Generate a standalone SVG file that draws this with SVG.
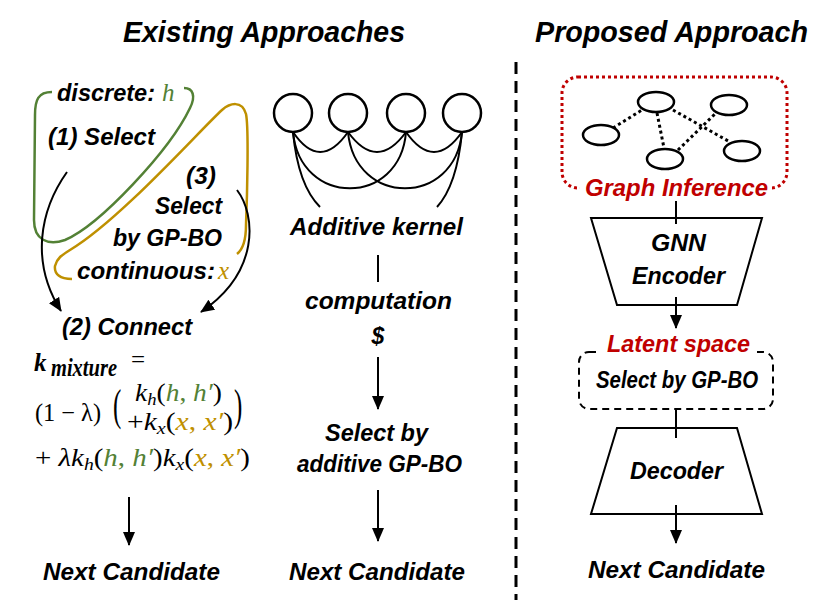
<svg xmlns="http://www.w3.org/2000/svg" width="830" height="603" viewBox="0 0 830 603">
<style>
.t{font-family:"Liberation Sans",Arial,sans-serif;font-weight:bold;font-style:italic;font-size:23px;fill:#000}
.tt{font-family:"Liberation Sans",Arial,sans-serif;font-weight:bold;font-style:italic;font-size:30px;fill:#000}
.m{font-family:"Liberation Serif","DejaVu Serif",serif;font-style:italic;font-size:25px;fill:#000}
.mu{font-family:"Liberation Serif","DejaVu Serif",serif;font-style:normal;font-size:25px;fill:#000}
.g{fill:#538135}
.y{fill:#BF9000}
.red{fill:#C00000}
.ln{fill:none;stroke:#000;stroke-width:2}
.ar{fill:none;stroke:#000;stroke-width:2;marker-end:url(#ah)}
.cir{fill:#fff;stroke:#000;stroke-width:2.5}
.dot{fill:none;stroke:#000;stroke-width:3;stroke-dasharray:3 3}
</style>
<defs>
<marker id="ah" markerUnits="userSpaceOnUse" markerWidth="14" markerHeight="14" refX="13" refY="6" orient="auto">
<path d="M0,0 L14,6 L0,12 z" fill="#000"/>
</marker>
</defs>
<rect width="830" height="603" fill="#fff"/>

<g id="titles">
<text class="tt" x="123" y="42" textLength="282" lengthAdjust="spacingAndGlyphs">Existing Approaches</text>
<text class="tt" x="535" y="42" textLength="273" lengthAdjust="spacingAndGlyphs">Proposed Approach</text>
</g>

<g id="divider">
<line x1="516" y1="62" x2="516" y2="600" stroke="#000" stroke-width="3" stroke-dasharray="12 7"/>
</g>

<!-- Left column -->
<g id="loops">
<path d="M52,92 C38,92 35,100 35,115 L34,220 C34,240 48,246 65,240 C100,225 170,150 190,108 C196,96 193,88 184,88" fill="none" stroke="#538135" stroke-width="2.5"/>
<path d="M72,279 C60,279 54,274 55,266 C57,258 62,255 70,250 C120,220 200,130 222,110 C230,103 242,100 246,114 C249,128 247,200 246,225 C246,240 242,250 237,254" fill="none" stroke="#BF9000" stroke-width="2.5"/>
</g>

<g id="discrete">
<text class="t" x="57" y="101" textLength="98" lengthAdjust="spacingAndGlyphs">discrete:</text>
<text class="m g" x="162" y="101" font-size="29">h</text>
</g>
<g id="select1">
<text class="t" x="48" y="145" textLength="107" lengthAdjust="spacingAndGlyphs">(1) Select</text>
</g>
<g id="select3">
<text class="t" x="186" y="184" textLength="30" lengthAdjust="spacingAndGlyphs">(3)</text>
<text class="t" x="155" y="214" textLength="67" lengthAdjust="spacingAndGlyphs">Select</text>
<text class="t" x="113" y="246" textLength="109" lengthAdjust="spacingAndGlyphs">by GP-BO</text>
</g>
<g id="continuous">
<text class="t" x="77" y="279" textLength="138" lengthAdjust="spacingAndGlyphs">continuous:</text>
<text class="m y" x="218" y="279" font-size="31">x</text>
</g>
<g id="connect">
<text class="t" x="62" y="335" textLength="130" lengthAdjust="spacingAndGlyphs">(2) Connect</text>
</g>

<g id="formula">
<text class="m" x="34" y="371" font-weight="bold" font-size="29">k</text>
<text class="m" x="51" y="376" font-weight="bold" font-size="19" textLength="66" lengthAdjust="spacingAndGlyphs">mixture</text>
<text class="mu" x="131" y="368" font-size="24">=</text>
<text class="mu" x="35" y="421" textLength="66" lengthAdjust="spacingAndGlyphs">(1 − λ)</text>
<text class="mu" transform="translate(113,420) scale(1,1.75)">(</text>
<text class="m" x="135" y="401" textLength="87" lengthAdjust="spacingAndGlyphs">k<tspan font-size="17" dy="4">h</tspan><tspan class="mu" dy="-4">(</tspan><tspan class="g">h</tspan><tspan class="mu g">, </tspan><tspan class="g">h′</tspan><tspan class="mu">)</tspan></text>
<text class="m" x="127" y="430" textLength="106" lengthAdjust="spacingAndGlyphs"><tspan class="mu">+</tspan>k<tspan font-size="17" dy="4">x</tspan><tspan class="mu" dy="-4">(</tspan><tspan class="y">x</tspan><tspan class="mu y">, </tspan><tspan class="y">x′</tspan><tspan class="mu">)</tspan></text>
<text class="mu" transform="translate(234,420) scale(1,1.75)">)</text>
<text class="m" x="35" y="466" textLength="215" lengthAdjust="spacingAndGlyphs"><tspan class="mu">+ </tspan>λk<tspan font-size="17" dy="4">h</tspan><tspan class="mu" dy="-4">(</tspan><tspan class="g">h</tspan><tspan class="mu g">, </tspan><tspan class="g">h′</tspan><tspan class="mu">)</tspan>k<tspan font-size="17" dy="4">x</tspan><tspan class="mu" dy="-4">(</tspan><tspan class="y">x</tspan><tspan class="mu y">, </tspan><tspan class="y">x′</tspan><tspan class="mu">)</tspan></text>
</g>

<g id="next1">
<text class="t" x="43" y="580" textLength="177" lengthAdjust="spacingAndGlyphs">Next Candidate</text>
</g>

<!-- Middle column -->
<g id="kernel-graph">
<path class="ln" d="M293,132 Q320,172 348,132"/>
<path class="ln" d="M348,132 Q377,172 406,132"/>
<path class="ln" d="M406,132 Q434,172 462,132"/>
<path class="ln" d="M293,132 C300,207 400,207 406,132"/>
<path class="ln" d="M348,132 C355,207 455,207 462,132"/>
<path class="ln" d="M293,132 Q298,185 320,207"/>
<path class="ln" d="M462,132 Q457,185 437,207"/>
<circle class="cir" cx="293" cy="113" r="19"/>
<circle class="cir" cx="348" cy="113" r="19"/>
<circle class="cir" cx="406" cy="113" r="19"/>
<circle class="cir" cx="462" cy="113" r="19"/>
</g>
<g id="additive">
<text class="t" x="290" y="235" textLength="173" lengthAdjust="spacingAndGlyphs">Additive kernel</text>
</g>
<g id="computation">
<text class="t" x="305" y="309" textLength="147" lengthAdjust="spacingAndGlyphs">computation</text>
<text class="t" x="378" y="344" text-anchor="middle">$</text>
</g>
<g id="selectadd">
<text class="t" x="325" y="441" textLength="103" lengthAdjust="spacingAndGlyphs">Select by</text>
<text class="t" x="297" y="472" textLength="165" lengthAdjust="spacingAndGlyphs">additive GP-BO</text>
</g>
<g id="next2">
<text class="t" x="289" y="580" textLength="176" lengthAdjust="spacingAndGlyphs">Next Candidate</text>
</g>

<!-- Right column -->
<g id="graph-inference">
<rect x="562" y="77" width="225" height="111" rx="16" fill="none" stroke="#C00000" stroke-width="3" stroke-dasharray="3 3"/>
<rect x="580" y="176" width="192" height="24" fill="#fff"/>
<path class="dot" d="M613,128 L642,110"/>
<path class="dot" d="M657,113 L664,148"/>
<path class="dot" d="M673,110 L730,142"/>
<path class="dot" d="M678,150 L717,112"/>
<ellipse class="cir" cx="601" cy="135" rx="18" ry="10"/>
<ellipse class="cir" cx="656" cy="102" rx="18" ry="10"/>
<ellipse class="cir" cx="729" cy="105" rx="18" ry="10"/>
<ellipse class="cir" cx="665" cy="159" rx="18" ry="10"/>
<ellipse class="cir" cx="742" cy="151" rx="18" ry="10"/>
<text class="t red" x="585" y="196" textLength="183" lengthAdjust="spacingAndGlyphs">Graph Inference</text>
</g>
<g id="encoder">
<path d="M591,218 L762,218 L737,305 L617,305 Z" fill="#fff" stroke="#000" stroke-width="2"/>
<text class="t" x="651" y="251" textLength="55" lengthAdjust="spacingAndGlyphs">GNN</text>
<text class="t" x="632" y="284" textLength="93" lengthAdjust="spacingAndGlyphs">Encoder</text>
</g>
<g id="latent">
<rect x="579" y="352" width="194" height="57" rx="10" fill="none" stroke="#000" stroke-width="2" stroke-dasharray="7 5"/>
<rect x="600" y="340" width="156" height="20" fill="#fff"/>
<text class="t red" x="607" y="352" textLength="143" lengthAdjust="spacingAndGlyphs">Latent space</text>
<text class="t" x="596" y="388" font-size="19" textLength="162" lengthAdjust="spacingAndGlyphs">Select by GP-BO</text>
</g>
<g id="decoder">
<path d="M617,428 L737,428 L762,514 L591,514 Z" fill="#fff" stroke="#000" stroke-width="2"/>
<text class="t" x="630" y="479" textLength="93" lengthAdjust="spacingAndGlyphs">Decoder</text>
</g>
<g id="next3">
<text class="t" x="588" y="578" textLength="177" lengthAdjust="spacingAndGlyphs">Next Candidate</text>
</g>

<g id="connectors">
<path class="ar" d="M67,172 C40,210 30,262 61,311"/>
<path class="ar" d="M237,190 C256,215 260,272 201,312"/>
<line class="ar" x1="129" y1="497" x2="129" y2="545"/>
<line class="ln" x1="378" y1="255" x2="378" y2="282"/>
<line class="ar" x1="378" y1="357" x2="378" y2="409"/>
<line class="ar" x1="378" y1="490" x2="378" y2="541"/>
<line class="ln" x1="676" y1="201" x2="676" y2="224"/>
<line class="ar" x1="676" y1="297" x2="676" y2="328"/>
<line class="ln" x1="676" y1="409" x2="676" y2="438"/>
<line class="ar" x1="676" y1="505" x2="676" y2="543"/>
</g>
</svg>
